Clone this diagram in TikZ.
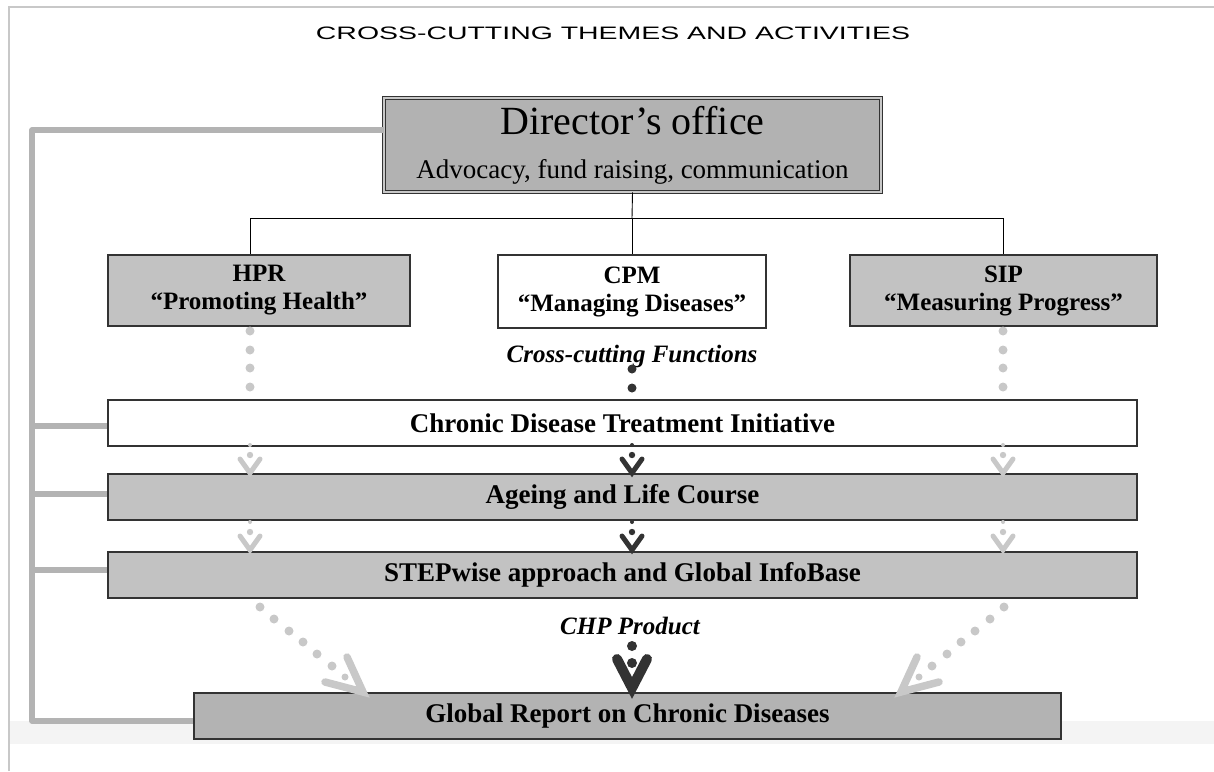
\documentclass[tikz,border=0pt]{standalone}
\usepackage{fontspec}
\setmainfont{Liberation Serif}
\newfontfamily\titlefont[FakeStretch=1.58]{Liberation Sans}
\definecolor{boxline}{HTML}{333333}
\definecolor{boxgray}{HTML}{C2C2C2}
\definecolor{dirgray}{HTML}{B2B2B2}
\definecolor{repgray}{HTML}{B3B3B3}
\definecolor{lightdot}{HTML}{C8C8C8}
\definecolor{darkdot}{HTML}{333333}
\definecolor{barg}{HTML}{B3B3B3}
\definecolor{frameg}{HTML}{C8C8C8}
\definecolor{bandg}{HTML}{F4F4F4}
\begin{document}
\begin{tikzpicture}[x=1pt,y=-1pt,
  box/.style={draw=boxline,line width=1.4pt,inner sep=0pt,align=center,
    font=\bfseries\fontsize{27}{30}\selectfont},
  topbox/.style={box,font=\bfseries\fontsize{25}{28}\selectfont},
  conn/.style={draw=black,line width=0.9pt},
  bar/.style={draw=barg,line width=5.5pt,line join=round},
  smallv/.pic={
    \fill (0,0) circle (2);
    \fill (0,10) circle (3.2);
    \draw[line width=5pt,line cap=round,line join=miter] (-10,14) -- (0,28) -- (10,14);
  },
  bigv/.pic={
    \fill (0,0) circle (5);
    \fill (0,17) circle (5);
    \draw[line width=10pt,line cap=round,line join=miter] (-15,13) -- (0,42) -- (15,13);
  }
]
\useasboundingbox (0,0) rectangle (1214,771);
% background band and frame
\fill[bandg] (10,721) rectangle (1214,744);
\draw[frameg,line width=2pt] (9,771) -- (9,7) -- (1214,7);

% title
\node[font=\titlefont\fontsize{18}{20}\selectfont,anchor=base] (title) at (613,39) {CROSS-CUTTING THEMES AND ACTIVITIES};

% boxes
\node[draw=boxline,line width=0.8pt,double=lightdot,double distance=2.2pt,fill=dirgray,
  minimum width=497,minimum height=94,inner sep=0pt] (dir) at (632.5,145) {};
\node[font=\fontsize{40}{44}\selectfont] (dirtitle) at (632.5,121) {Director’s office};
\node[font=\fontsize{27}{30}\selectfont] (dirsub) at (632.5,172) {Advocacy, fund raising, communication};

\node[topbox,fill=boxgray,minimum width=302,minimum height=71] (hpr) at (259,290.5) {HPR\\“Promoting Health”};
\node[topbox,fill=white,minimum width=268,minimum height=73] (cpm) at (632,291.5) {CPM\\“Managing Diseases”};
\node[topbox,fill=boxgray,minimum width=307,minimum height=71] (sip) at (1003.5,290.5) {SIP\\“Measuring Progress”};

\node[box,fill=white,minimum width=1029,minimum height=46] (cdti) at (622.5,423) {Chronic Disease Treatment Initiative};
\node[box,fill=boxgray,minimum width=1029,minimum height=46] (age) at (622.5,497) {Ageing and Life Course};
\node[box,fill=boxgray,minimum width=1029,minimum height=46] (step) at (622.5,575) {STEPwise approach and Global InfoBase};
\node[box,fill=repgray,minimum width=867,minimum height=46] (glob) at (627.5,716) {Global Report on Chronic Diseases};

% italic labels
\node[font=\bfseries\itshape\fontsize{25}{28}\selectfont,anchor=base] (ccf) at (632,362) {Cross-cutting Functions};
\node[font=\bfseries\itshape\fontsize{25}{28}\selectfont,anchor=base] (chp) at (630,634) {CHP Product};

% org chart connectors
\coordinate (hub) at (632,218);
\draw[conn] (dir.south) -- (hub);
\draw[conn] (250,218) -- (1003,218);
\draw[conn] (250,218) -- (250,218 |- hpr.north);
\draw[conn] (hub) -- (cpm.north);
\draw[conn] (1003,218) -- (1003,218 |- sip.north);

% left gray bar
\coordinate (dirL) at (dir.west |- 0,130);
\draw[bar] (dirL) -- (32,130) -- (32,721) -- (glob.west |- 0,721);
\draw[bar] (32,426) -- (cdti.west |- 0,426);
\draw[bar] (32,494) -- (age.west |- 0,494);
\draw[bar] (32,570) -- (step.west |- 0,570);

% dotted vertical links
\foreach \yy in {331,350,368,387} {
  \fill[lightdot] (250,\yy) circle (4.5);
  \fill[lightdot] (1003,\yy) circle (4.5);
}
\fill[darkdot] (632,369) circle (4.5);
\fill[darkdot] (632,388) circle (4.5);

% small figure arrows
\pic[color=lightdot] at (250,445) {smallv};
\pic[color=darkdot] at (632,445) {smallv};
\pic[color=lightdot] at (1003,445) {smallv};
\pic[color=lightdot] at (250,522) {smallv};
\pic[color=darkdot] at (632,522) {smallv};
\pic[color=lightdot] at (1003,522) {smallv};

% big centre figure
\pic[color=darkdot] at (632,646) {bigv};

% diagonal dotted arrows
\foreach \px/\py in {260/607,274/619,289/631,303/642,317/654,332/666} {
  \fill[lightdot] (\px,\py) circle (4.5);
  \fill[lightdot] ({1264-\px},\py) circle (4.5);
}
\fill[lightdot] (345,677) circle (3.5);
\fill[lightdot] (919,677) circle (3.5);
\draw[lightdot,line width=7.5pt,line cap=round,line join=miter] (347,657) -- (363,692) -- (325,682);
\draw[lightdot,line width=7.5pt,line cap=round,line join=miter] (917,657) -- (901,692) -- (939,682);
\end{tikzpicture}
\end{document}
